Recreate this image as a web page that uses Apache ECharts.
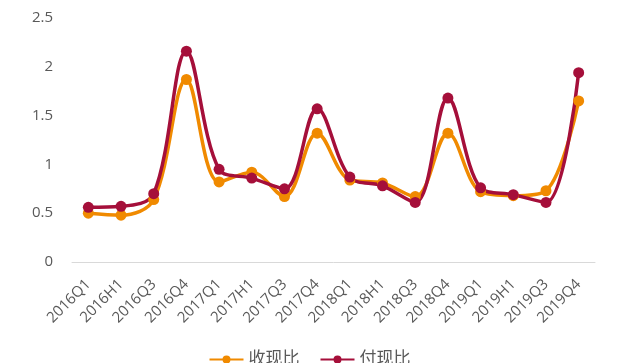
<!DOCTYPE html>
<html>
<head>
<meta charset="utf-8">
<script src="https://cdn.jsdelivr.net/npm/echarts@6/dist/echarts.min.js"></script>
<style>
  html, body { margin: 0; padding: 0; background: #fff; }
  #chart { width: 619px; height: 363px; }
</style>
</head>
<body>
<div id="chart"></div>
<script>
// 报告期
const periods = ['2016Q1', '2016H1', '2016Q3', '2016Q4', '2017Q1', '2017H1', '2017Q3', '2017Q4',
  '2018Q1', '2018H1', '2018Q3', '2018Q4', '2019Q1', '2019H1', '2019Q3', '2019Q4'];
// 收现比
const receiveRatio = [0.50, 0.48, 0.64, 1.87, 0.82, 0.92, 0.67, 1.32, 0.84, 0.81, 0.67, 1.32, 0.72, 0.68, 0.73, 1.65];
// 付现比
const payRatio = [0.56, 0.57, 0.70, 2.16, 0.95, 0.86, 0.75, 1.57, 0.87, 0.78, 0.61, 1.68, 0.76, 0.69, 0.61, 1.94];

const font = '"Open Sans", "Noto Sans CJK SC", sans-serif';

let myChart = echarts.init(document.getElementById('chart'));

let options = {
  animation: false,
  grid: {
    left: 72,
    right: 24,
    top: 18,
    bottom: 101
  },
  legend: {
    bottom: -10,
    left: 'center',
    itemWidth: 34,
    itemHeight: 10,
    itemGap: 20,
    textStyle: { fontSize: 17, color: '#595959', fontFamily: font },
    data: ['收现比', '付现比']
  },
  xAxis: {
    type: 'category',
    data: periods,
    axisLine: { lineStyle: { color: '#d9d9d9' } },
    axisTick: { show: false },
    axisLabel: {
      rotate: 45,
      interval: 0,
      fontSize: 15,
      color: '#595959',
      fontFamily: font,
      margin: 20
    }
  },
  yAxis: {
    type: 'value',
    min: 0,
    max: 2.5,
    interval: 0.5,
    axisLine: { show: false },
    axisTick: { show: false },
    splitLine: { show: false },
    axisLabel: {
      fontSize: 15,
      color: '#595959',
      fontFamily: font,
      margin: 19
    }
  },
  series: [
    {
      name: '收现比',
      type: 'line',
      smooth: 0.35,
      data: receiveRatio,
      symbol: 'circle',
      symbolSize: 11,
      lineStyle: { width: 3.5, color: '#F08A00' },
      itemStyle: { color: '#F08A00' }
    },
    {
      name: '付现比',
      type: 'line',
      smooth: 0.35,
      data: payRatio,
      symbol: 'circle',
      symbolSize: 11,
      lineStyle: { width: 3.5, color: '#A50F3A' },
      itemStyle: { color: '#A50F3A' }
    }
  ]
};

myChart.setOption(options);
</script>
</body>
</html>
